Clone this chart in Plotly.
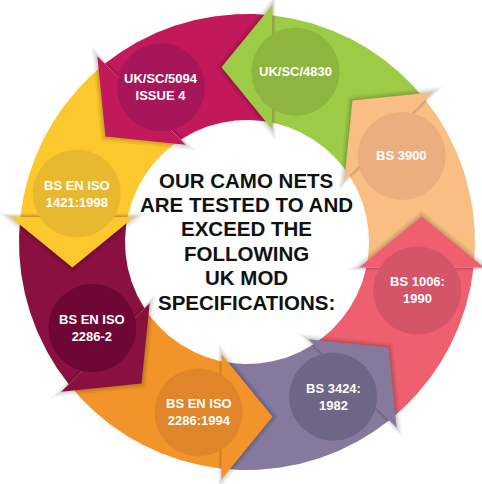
import numpy as np
import plotly.graph_objects as go

# ---- data ----
labels = ["UK/SC/4830", "UK/SC/5094<br>ISSUE 4", "BS EN ISO<br>1421:1998", "BS EN ISO<br>2286-2",
          "BS EN ISO<br>2286:1994", "BS 3424:<br>1982", "BS 1006:<br>1990", "BS 3900"]
band_colors = ["#9DCB46", "#C2195B", "#FDC82D", "#891040", "#F3942A", "#85799E", "#EE5F6F", "#F8BE83"]
circle_colors = ["#8EB63F", "#A8165A", "#E8B92E", "#6E0636", "#E0852A", "#6E6686", "#D45468", "#EBAE7F"]
title_lines = ["OUR CAMO NETS", "ARE TESTED TO AND", "EXCEED THE", "FOLLOWING", "UK MOD", "SPECIFICATIONS:"]

# ---- geometry (pixel space, y down) ----
CX, CY = 247.0, 242.0
R_OUT, R_IN, R_MID = 228.0, 122.0, 176.5
HEAD_HALF, HEAD_LEN = 62.5, 51.0
THETA0 = 81.7          # head-base angle of first arrow (deg, math orientation)
STEP = 360.0 / len(labels)
TILT = 8.3
CIRC_OFF, CIRC_RAD, CIRC_R = -7.6, 44.0, 177.0


def px(x, y):
    return CX + x, CY - y


def vec(a):
    r = np.radians(a)
    return np.array([np.cos(r), np.sin(r)])


n = len(labels)
thetas = [THETA0 + STEP * k for k in range(n)]
mids = [R_MID * vec(t) for t in thetas]
dirs_u = [vec(t + TILT) for t in thetas]


def cut_angle(k, R):
    M, u = mids[k], dirs_u[k]
    b = M @ u
    t = -b + np.sqrt(b * b - M @ M + R * R)
    P = M + t * u
    return np.degrees(np.arctan2(P[1], P[0]))


a_out = [cut_angle(k, R_OUT) for k in range(n)]
a_in = [cut_angle(k, R_IN) for k in range(n)]

fig = go.Figure()


def add_poly(xs, ys, color):
    fig.add_trace(go.Scatter(x=list(xs) + [xs[0]], y=list(ys) + [ys[0]], mode="lines",
                             fill="toself", fillcolor=color, line=dict(width=0),
                             hoverinfo="skip", showlegend=False))


# shafts
for k in range(n):
    p = (k - 1) % n
    o0, o1 = a_out[p], a_out[k]
    while o1 < o0:
        o1 += 360
    i0, i1 = a_in[p], a_in[k]
    while i1 < i0:
        i1 += 360
    ao = np.linspace(o0, o1, 120)
    ai = np.linspace(i1, i0, 120)
    pts = [R_OUT * vec(a) for a in ao] + [R_IN * vec(a) for a in ai]
    xs, ys = zip(*[px(*q) for q in pts])
    add_poly(xs, ys, band_colors[k])

# heads with soft shadow
for k in range(n):
    M, u = mids[k], dirs_u[k]
    d = vec(thetas[k] + TILT + 90)
    tri = [M + HEAD_HALF * u, M + HEAD_LEN * d, M - HEAD_HALF * u]
    cen = sum(tri) / 3
    for grow, alpha in [(4.0, 0.05), (2.5, 0.06), (1.2, 0.07)]:
        s = 1 + grow / 22.3
        sh = [cen + s * (q - cen) for q in tri]
        xs, ys = zip(*[px(*q) for q in sh])
        add_poly(xs, ys, f"rgba(0,0,0,{alpha})")
    xs, ys = zip(*[px(*q) for q in tri])
    add_poly(xs, ys, band_colors[k])

# circles
ang = np.linspace(0, 360, 121)
for k in range(n):
    c = CIRC_R * vec(thetas[k] + CIRC_OFF)
    pts = [c + CIRC_RAD * vec(a) for a in ang]
    xs, ys = zip(*[px(*q) for q in pts])
    add_poly(xs, ys, circle_colors[k])
    cx, cy = px(*c)
    fig.add_annotation(x=cx, y=cy, text=f"<b>{labels[k]}</b>", showarrow=False,
                       font=dict(family="Liberation Sans, Arial, sans-serif", size=13, color="#FFFFFF"),
                       xanchor="center", yanchor="middle")

# centre title
for i, line in enumerate(title_lines):
    fig.add_annotation(x=246, y=180 + 24.4 * i, text=f"<b>{line}</b>", showarrow=False,
                       font=dict(family="Liberation Sans, Arial, sans-serif", size=20.5, color="#111111"),
                       xanchor="center", yanchor="middle")

fig.update_layout(
    width=482, height=484, margin=dict(l=0, r=0, t=0, b=0),
    paper_bgcolor="white", plot_bgcolor="white", showlegend=False,
    xaxis=dict(range=[0, 482], visible=False, fixedrange=True),
    yaxis=dict(range=[484, 0], visible=False, fixedrange=True),
)
fig.write_html("out.html", config={"displayModeBar": False},
               post_script="document.body.style.margin='0';document.body.style.overflow='hidden';")
